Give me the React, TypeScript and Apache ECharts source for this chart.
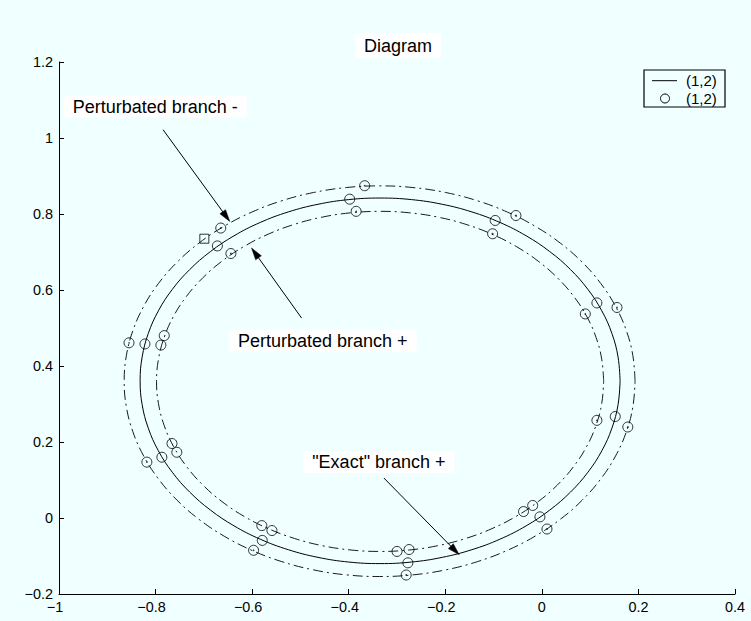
import React, { useEffect, useRef } from "react";
import * as echarts from "echarts";

const FONT = '"Liberation Sans", Arial, Helvetica, sans-serif';
const BG = "#f0ffff";

// Curve samples (x, y) for the three branches, traced every 7.5 degrees around each loop.
const exactBranch: number[][] = [
  [0.162, 0.361], [0.1578, 0.4238], [0.1451, 0.4855], [0.1242, 0.5451], [0.0954, 0.6015],
  [0.0593, 0.6538], [0.0164, 0.7011], [-0.0325, 0.7426], [-0.0865, 0.7776], [-0.1448, 0.8054],
  [-0.2064, 0.8256], [-0.2701, 0.8379], [-0.335, 0.842], [-0.3999, 0.8379], [-0.4636, 0.8256],
  [-0.5252, 0.8054], [-0.5835, 0.7776], [-0.6376, 0.7426], [-0.6864, 0.7011], [-0.7293, 0.6538],
  [-0.7654, 0.6015], [-0.7942, 0.5451], [-0.8151, 0.4855], [-0.8278, 0.4238], [-0.832, 0.361],
  [-0.8278, 0.2982], [-0.8151, 0.2365], [-0.7942, 0.1769], [-0.7654, 0.1205], [-0.7293, 0.0682],
  [-0.6864, 0.0209], [-0.6376, -0.0206], [-0.5835, -0.0556], [-0.5252, -0.0834], [-0.4636, -0.1036],
  [-0.3999, -0.1159], [-0.335, -0.12], [-0.2701, -0.1159], [-0.2064, -0.1036], [-0.1448, -0.0834],
  [-0.0865, -0.0556], [-0.0325, -0.0206], [0.0164, 0.0209], [0.0593, 0.0682], [0.0954, 0.1205],
  [0.1242, 0.1769], [0.1451, 0.2365], [0.1578, 0.2982], [0.162, 0.361],
];

const branchMinus: number[][] = [
  [0.193, 0.36], [0.1885, 0.4271], [0.175, 0.493], [0.1527, 0.5567], [0.1221, 0.617],
  [0.0837, 0.6729], [0.0381, 0.7235], [-0.014, 0.7678], [-0.0715, 0.8051], [-0.1336, 0.8349],
  [-0.1991, 0.8565], [-0.267, 0.8696], [-0.336, 0.874], [-0.4051, 0.8696], [-0.4729, 0.8565],
  [-0.5384, 0.8349], [-0.6005, 0.8051], [-0.658, 0.7678], [-0.7101, 0.7235], [-0.7557, 0.6729],
  [-0.7941, 0.617], [-0.8247, 0.5567], [-0.847, 0.493], [-0.8605, 0.4271], [-0.865, 0.36],
  [-0.8605, 0.2929], [-0.847, 0.227], [-0.8247, 0.1633], [-0.7941, 0.103], [-0.7557, 0.0471],
  [-0.7101, -0.0035], [-0.658, -0.0478], [-0.6005, -0.0851], [-0.5384, -0.1149], [-0.4729, -0.1365],
  [-0.4051, -0.1496], [-0.336, -0.154], [-0.267, -0.1496], [-0.1991, -0.1365], [-0.1336, -0.1149],
  [-0.0715, -0.0851], [-0.014, -0.0478], [0.0381, -0.0035], [0.0837, 0.0471], [0.1221, 0.103],
  [0.1527, 0.1633], [0.175, 0.227], [0.1885, 0.2929], [0.193, 0.36],
];

const branchPlus: number[][] = [
  [0.128, 0.3595], [0.124, 0.4179], [0.1122, 0.4753], [0.0928, 0.5308], [0.066, 0.5833],
  [0.0323, 0.6319], [-0.0076, 0.6759], [-0.0531, 0.7145], [-0.1035, 0.747], [-0.1578, 0.7729],
  [-0.2152, 0.7918], [-0.2746, 0.8032], [-0.335, 0.807], [-0.3954, 0.8032], [-0.4548, 0.7918],
  [-0.5122, 0.7729], [-0.5665, 0.747], [-0.6169, 0.7145], [-0.6624, 0.6759], [-0.7023, 0.6319],
  [-0.736, 0.5833], [-0.7628, 0.5308], [-0.7822, 0.4753], [-0.794, 0.4179], [-0.798, 0.3595],
  [-0.794, 0.3011], [-0.7822, 0.2437], [-0.7628, 0.1883], [-0.736, 0.1358], [-0.7023, 0.0871],
  [-0.6624, 0.0431], [-0.6169, 0.0045], [-0.5665, -0.028], [-0.5122, -0.0539], [-0.4548, -0.0728],
  [-0.3954, -0.0842], [-0.335, -0.088], [-0.2746, -0.0842], [-0.2152, -0.0728], [-0.1578, -0.0539],
  [-0.1035, -0.028], [-0.0531, 0.0045], [-0.0076, 0.0431], [0.0323, 0.0871], [0.066, 0.1358],
  [0.0928, 0.1883], [0.1122, 0.2437], [0.124, 0.3011], [0.128, 0.3595],
];

// Computed points on each branch
const exactMarks: number[][] = [
  [-0.398, 0.839], [-0.0966, 0.783], [0.114, 0.566], [0.152, 0.267], [-0.004, 0.003],
  [-0.2775, -0.118], [-0.579, -0.059], [-0.787, 0.16], [-0.822, 0.458], [-0.672, 0.716],
];

const minusMarks: number[][] = [
  [-0.367, 0.8745], [-0.0537, 0.796], [0.1556, 0.554], [0.178, 0.2395], [0.0106, -0.029],
  [-0.281, -0.15], [-0.597, -0.085], [-0.818, 0.147], [-0.855, 0.461], [-0.665, 0.763],
];

const plusMarks: number[][] = [
  [-0.3846, 0.807], [-0.102, 0.748], [0.09, 0.537], [0.114, 0.257], [-0.644, 0.696],
];

const plusMarkPairs: number[][] = [
  [-0.038, 0.017], [-0.019, 0.033], [-0.3, -0.088], [-0.275, -0.083], [-0.58, -0.02],
  [-0.559, -0.033], [-0.766, 0.196], [-0.756, 0.173], [-0.782, 0.48], [-0.789, 0.455],
];

const startMark: number[][] = [[-0.699, 0.735]];

const xAxisRange = { min: -1, max: 0.4, step: 0.2 };
const yAxisRange = { min: -0.2, max: 1.2, step: 0.2 };

const titleText = "Diagram";
const legendLabels = ["(1,2)", "(1,2)"];

// Callouts: label centre, arrow tail and arrow tip, all in data units
const callouts = [
  { text: "Perturbated branch -", at: [-0.8007, 1.0826], tail: [-0.7845, 1.0218], tip: [-0.6463, 0.7805] },
  { text: "Perturbated branch +", at: [-0.4536, 0.4671], tail: [-0.4977, 0.5263], tip: [-0.6013, 0.7105] },
  { text: "\"Exact\" branch +", at: [-0.3375, 0.1476], tail: [-0.3272, 0.1053], tip: [-0.1712, -0.0966] },
];

const fmtTick = (v: number) => {
  const r = Math.round(v * 10) / 10;
  return (r === 0 ? "0" : String(r)).replace("-", "\u2212");
};

const tickFont = { color: "#000", fontSize: 14.4, fontFamily: FONT };

export default function App() {
  const ref = useRef<HTMLDivElement>(null);

  useEffect(() => {
    const chart = echarts.init(ref.current!, null, { renderer: "svg" });

    const axisCommon = {
      type: "value",
      axisLine: { show: true, onZero: false, lineStyle: { color: "#000", width: 1 } },
      axisTick: { show: true, inside: true, length: 5, lineStyle: { color: "#000", width: 1 } },
      splitLine: { show: false },
    };

    const markerStyle = { color: "rgba(0,0,0,0)", borderColor: "#000", borderWidth: 1 };
    const dashDot = [10, 4, 2, 4];

    const branchLine = (name: string, data: number[][], dashed: boolean) => ({
      name,
      type: "line",
      data,
      smooth: 0.4,
      showSymbol: false,
      lineStyle: { color: "#000", width: dashed ? 0.9 : 1, type: dashed ? dashDot : "solid" },
    });

    chart.setOption({
      animation: false,
      backgroundColor: BG,
      title: {
        text: titleText,
        left: 355,
        top: 33,
        backgroundColor: "#fff",
        padding: [4, 9, 3, 9],
        textStyle: { color: "#000", fontSize: 18, fontWeight: "normal", fontFamily: FONT },
      },
      grid: { left: 59, top: 62, right: 16, bottom: 27, containLabel: false },
      xAxis: {
        ...axisCommon,
        min: xAxisRange.min,
        max: xAxisRange.max,
        interval: xAxisRange.step,
        axisLabel: {
          ...tickFont,
          margin: 6,
          formatter: (v: number) => (v < -1e-9 ? `{n|${fmtTick(v)}}` : fmtTick(v)),
          rich: { n: { ...tickFont, padding: [0, 8, 0, 0] } },
        },
      },
      yAxis: {
        ...axisCommon,
        min: yAxisRange.min,
        max: yAxisRange.max,
        interval: yAxisRange.step,
        axisLabel: { ...tickFont, margin: 6, formatter: fmtTick },
      },
      series: [
        branchLine("exact", exactBranch, false),
        branchLine("minus", branchMinus, true),
        branchLine("plus", branchPlus, true),
        {
          name: "points",
          type: "scatter",
          data: [...exactMarks, ...minusMarks, ...plusMarks, ...plusMarkPairs],
          symbol: "circle",
          symbolSize: 10,
          itemStyle: markerStyle,
        },
        {
          name: "centres",
          type: "scatter",
          data: [...minusMarks, ...plusMarks],
          symbol: "circle",
          symbolSize: 1.6,
          itemStyle: { color: "#000" },
        },
        {
          name: "start",
          type: "scatter",
          data: startMark,
          symbol: "rect",
          symbolSize: 9,
          itemStyle: markerStyle,
        },
      ],
    });

    const toPx = (p: number[]) => chart.convertToPixel({ gridIndex: 0 }, p) as number[];
    const graphic: any[] = [];

    callouts.forEach((c) => {
      const [tx, ty] = toPx(c.tail);
      const [hx, hy] = toPx(c.tip);
      const dx = hx - tx;
      const dy = hy - ty;
      const len = Math.hypot(dx, dy);
      const ux = dx / len;
      const uy = dy / len;
      const headLen = 12;
      const halfW = 3.5;
      const bx = hx - ux * headLen;
      const by = hy - uy * headLen;
      graphic.push({
        type: "line",
        shape: { x1: tx, y1: ty, x2: bx + ux * 2, y2: by + uy * 2 },
        style: { stroke: "#000", lineWidth: 1 },
        z: 10,
      });
      graphic.push({
        type: "polygon",
        shape: {
          points: [
            [hx, hy],
            [bx - uy * halfW, by + ux * halfW],
            [bx + uy * halfW, by - ux * halfW],
          ],
        },
        style: { fill: "#000", stroke: "#000", lineWidth: 0.5 },
        z: 10,
      });
      const [cx, cy] = toPx(c.at);
      graphic.push({
        type: "text",
        x: cx,
        y: cy,
        style: {
          text: c.text,
          align: "center",
          verticalAlign: "middle",
          fill: "#000",
          fontSize: 18,
          fontFamily: FONT,
          backgroundColor: "#fff",
          padding: [2, 9, 2, 9],
        },
        z: 11,
      });
    });

    // Legend box
    const lx = 644;
    const ly = 70;
    graphic.push({
      type: "rect",
      shape: { x: lx, y: ly, width: 81, height: 37 },
      style: { fill: "none", stroke: "#000", lineWidth: 1.2 },
      z: 20,
    });
    graphic.push({
      type: "line",
      shape: { x1: lx + 8, y1: ly + 10.7, x2: lx + 33, y2: ly + 10.7 },
      style: { stroke: "#000", lineWidth: 1 },
      z: 21,
    });
    graphic.push({
      type: "circle",
      shape: { cx: lx + 21, cy: ly + 28.5, r: 4.5 },
      style: { fill: "none", stroke: "#000", lineWidth: 1 },
      z: 21,
    });
    legendLabels.forEach((t, i) => {
      graphic.push({
        type: "text",
        x: lx + 42,
        y: ly + 10.7 + i * 17.8,
        style: { text: t, fill: "#000", fontSize: 15, fontFamily: FONT, verticalAlign: "middle" },
        z: 21,
      });
    });

    chart.setOption({ graphic });

    return () => chart.dispose();
  }, []);

  return (
    <div
      ref={ref}
      style={{ position: "fixed", left: 0, top: 0, width: 751, height: 621, background: BG }}
    />
  );
}
